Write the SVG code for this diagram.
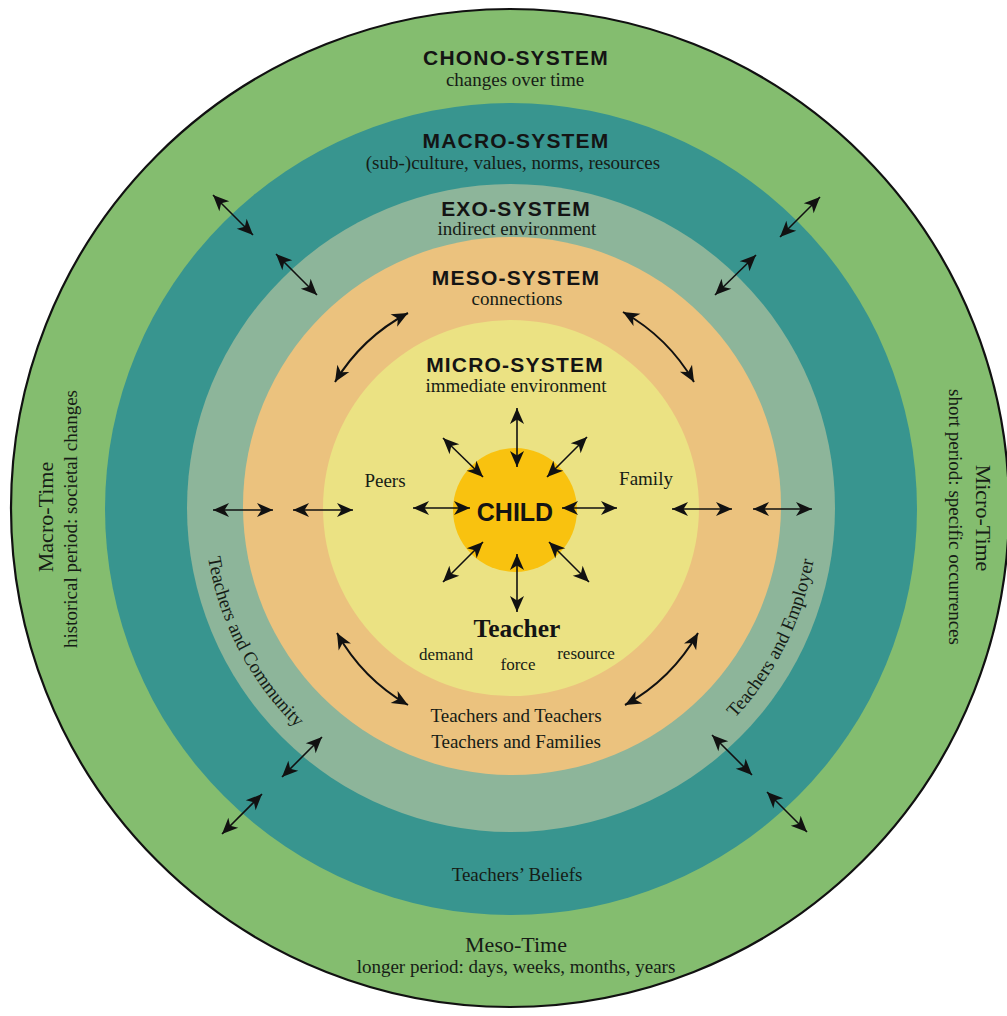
<svg xmlns="http://www.w3.org/2000/svg" width="1007" height="1016" viewBox="0 0 1007 1016">
  <style>
    .hdr { font-family: "Liberation Sans", Arial, sans-serif; font-weight: bold; font-size: 21px; letter-spacing: 1.2px; fill: #141414; text-anchor: middle; }
    .sub { font-family: "Liberation Serif", "Times New Roman", serif; font-size: 19px; fill: #161c16; text-anchor: middle; }
    .small { font-family: "Liberation Serif", "Times New Roman", serif; font-size: 17px; fill: #161c16; text-anchor: middle; }
    .time { font-family: "Liberation Serif", "Times New Roman", serif; font-size: 22px; fill: #161c16; text-anchor: middle; }
    .arr { fill: none; stroke: #111; stroke-width: 1.6; marker-start: url(#ah); marker-end: url(#ah); }
    .curve { fill: none; stroke: #111; stroke-width: 2; marker-start: url(#ah); marker-end: url(#ah); }
  </style>
  <defs>
    <marker id="ah" viewBox="-17 -8 18 16" refX="0" refY="0" markerWidth="18" markerHeight="16" markerUnits="userSpaceOnUse" orient="auto-start-reverse">
      <path d="M0,0 L-16,-7 L-11.5,0 L-16,7 Z" fill="#111"/>
    </marker>
    <!-- baselines for the curved labels in the exo band -->
    <path id="arcCommunity" d="M208.7,454.7 A307,307 0 0 0 381.3,786.2"/>
    <path id="arcEmployer" d="M645.6,783.9 A307,307 0 0 0 812.4,449.4"/>
  </defs>

  <rect width="1007" height="1016" fill="#ffffff"/>

  <!-- nested system rings -->
  <g id="chrono-system">
    <circle cx="510" cy="508" r="499" fill="#84bd6f" stroke="#111" stroke-width="2.2"/>
    <text class="hdr" x="516" y="65">CHONO-SYSTEM</text>
    <text class="sub" x="515" y="86">changes over time</text>
    <text class="time" transform="translate(53,517) rotate(-90)">Macro-Time</text>
    <text class="sub" transform="translate(77,519) rotate(-90)">historical period: societal changes</text>
    <text class="time" transform="translate(976,518) rotate(90)">Micro-Time</text>
    <text class="sub" transform="translate(949,517) rotate(90)">short period: specific occurrences</text>
    <text class="time" x="516" y="952">Meso-Time</text>
    <text class="sub" x="516" y="973">longer period: days, weeks, months, years</text>
  </g>

  <g id="macro-system">
    <circle cx="511" cy="509" r="406" fill="#38958f"/>
    <text class="hdr" x="516" y="148">MACRO-SYSTEM</text>
    <text class="sub" x="513" y="169">(sub-)culture, values, norms, resources</text>
    <text class="sub" x="517" y="881">Teachers’ Beliefs</text>
  </g>

  <g id="exo-system">
    <circle cx="511" cy="508" r="324" fill="#8db59a"/>
    <text class="hdr" x="516" y="216">EXO-SYSTEM</text>
    <text class="sub" x="517" y="235">indirect environment</text>
    <text class="sub"><textPath href="#arcCommunity" startOffset="50%">Teachers and Community</textPath></text>
    <text class="sub"><textPath href="#arcEmployer" startOffset="50%">Teachers and Employer</textPath></text>
  </g>

  <g id="meso-system">
    <circle cx="512" cy="506" r="269" fill="#ebc27e"/>
    <text class="hdr" x="516" y="285">MESO-SYSTEM</text>
    <text class="sub" x="517" y="305">connections</text>
    <text class="sub" x="516" y="722">Teachers and Teachers</text>
    <text class="sub" x="516" y="748">Teachers and Families</text>
  </g>

  <g id="micro-system">
    <circle cx="511" cy="508" r="188" fill="#ebe283"/>
    <text class="hdr" x="515" y="372">MICRO-SYSTEM</text>
    <text class="sub" x="516" y="392">immediate environment</text>
    <text class="sub" x="385" y="487">Peers</text>
    <text class="sub" x="646" y="485">Family</text>
    <text x="517" y="637" text-anchor="middle" font-family="Liberation Serif, Times New Roman, serif" font-weight="bold" font-size="25.5" fill="#141414">Teacher</text>
    <text class="small" x="446" y="660">demand</text>
    <text class="small" x="518" y="670">force</text>
    <text class="small" x="586" y="659">resource</text>
  </g>

  <g id="child">
    <circle cx="515" cy="510" r="62" fill="#f9c20f"/>
    <text x="515" y="521" text-anchor="middle" font-family="Liberation Sans, Arial, sans-serif" font-weight="bold" font-size="25" fill="#141414">CHILD</text>
  </g>

  <!-- two-way influences -->
  <g id="connectors">
    <!-- around the child -->
    <line class="arr" x1="517" y1="408" x2="517" y2="467"/>
    <line class="arr" x1="443" y1="438" x2="483" y2="477"/>
    <line class="arr" x1="587" y1="437" x2="547" y2="477"/>
    <line class="arr" x1="413" y1="508" x2="470" y2="508"/>
    <line class="arr" x1="562" y1="508" x2="617" y2="508"/>
    <line class="arr" x1="483" y1="542" x2="443" y2="582"/>
    <line class="arr" x1="549" y1="542" x2="589" y2="582"/>
    <line class="arr" x1="517" y1="554" x2="517" y2="612"/>

    <!-- across the ring boundaries, left and right -->
    <line class="arr" x1="213" y1="510" x2="273" y2="510"/>
    <line class="arr" x1="293" y1="510" x2="353" y2="510"/>
    <line class="arr" x1="672" y1="509" x2="732" y2="509"/>
    <line class="arr" x1="753" y1="509" x2="812" y2="509"/>

    <!-- diagonals -->
    <line class="arr" x1="213" y1="195" x2="253" y2="235"/>
    <line class="arr" x1="276" y1="254" x2="317" y2="295"/>
    <line class="arr" x1="820" y1="197" x2="780" y2="237"/>
    <line class="arr" x1="756" y1="255" x2="715" y2="295"/>
    <line class="arr" x1="322" y1="737" x2="282" y2="777"/>
    <line class="arr" x1="262" y1="794" x2="222" y2="834"/>
    <line class="arr" x1="712" y1="735" x2="752" y2="775"/>
    <line class="arr" x1="767" y1="792" x2="807" y2="832"/>

    <!-- curved links inside the meso band -->
    <path class="curve" d="M408,313 A190,190 0 0 0 335,382"/>
    <path class="curve" d="M623,312 A190,190 0 0 1 694,382"/>
    <path class="curve" d="M337,633 A190,190 0 0 0 408,705"/>
    <path class="curve" d="M698,633 A190,190 0 0 1 625,705"/>
  </g>
</svg>
